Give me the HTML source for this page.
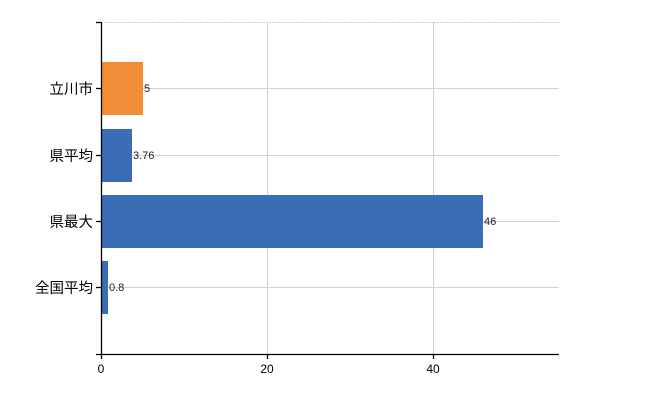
<!DOCTYPE html>
<html><head><meta charset="utf-8"><style>body{margin:0;background:#fff}svg{display:block}</style></head>
<body>
<svg width="650" height="400" xmlns="http://www.w3.org/2000/svg" font-family="Liberation Sans, Noto Sans CJK JP, sans-serif">
<g stroke="#d0d0d0" stroke-width="1">
<line x1="101" y1="22.5" x2="559" y2="22.5" stroke-dasharray="2,1"/>
<line x1="101" y1="88.5" x2="559" y2="88.5"/>
<line x1="101" y1="155.5" x2="559" y2="155.5"/>
<line x1="101" y1="221.5" x2="559" y2="221.5"/>
<line x1="101" y1="287.5" x2="559" y2="287.5"/>
<line x1="267.5" y1="22" x2="267.5" y2="354"/>
<line x1="433.5" y1="22" x2="433.5" y2="354"/>
</g>
<rect x="101" y="62" width="42" height="53" fill="#f28c36"/>
<rect x="101" y="129" width="31" height="53" fill="#3a6db5"/>
<rect x="101" y="195" width="382" height="53" fill="#3a6db5"/>
<rect x="101" y="261" width="7" height="53" fill="#3a6db5"/>
<g font-size="11" fill="#222">
<text x="144" y="92">5</text>
<text x="133" y="159">3.76</text>
<text x="484" y="225">46</text>
<text x="109" y="291">0.8</text>
</g>
<g stroke="#000" stroke-width="1.3">
<line x1="101.5" y1="22" x2="101.5" y2="354"/>
<line x1="96" y1="354.5" x2="559" y2="354.5"/>
<line x1="96" y1="22.5" x2="101" y2="22.5"/>
<line x1="96" y1="88.5" x2="101" y2="88.5"/>
<line x1="96" y1="155.5" x2="101" y2="155.5"/>
<line x1="96" y1="221.5" x2="101" y2="221.5"/>
<line x1="96" y1="287.5" x2="101" y2="287.5"/>
<line x1="101.5" y1="354" x2="101.5" y2="359"/>
<line x1="267.5" y1="354" x2="267.5" y2="359"/>
<line x1="433.5" y1="354" x2="433.5" y2="359"/>
</g>
<g font-size="14.5" fill="#000" text-anchor="end">
<text x="93" y="94">立川市</text>
<text x="93" y="161">県平均</text>
<text x="93" y="227">県最大</text>
<text x="93" y="293">全国平均</text>
</g>
<g font-size="12" fill="#000" text-anchor="middle">
<text x="101" y="373">0</text>
<text x="267" y="373">20</text>
<text x="433" y="373">40</text>
</g>
</svg>
</body></html>
